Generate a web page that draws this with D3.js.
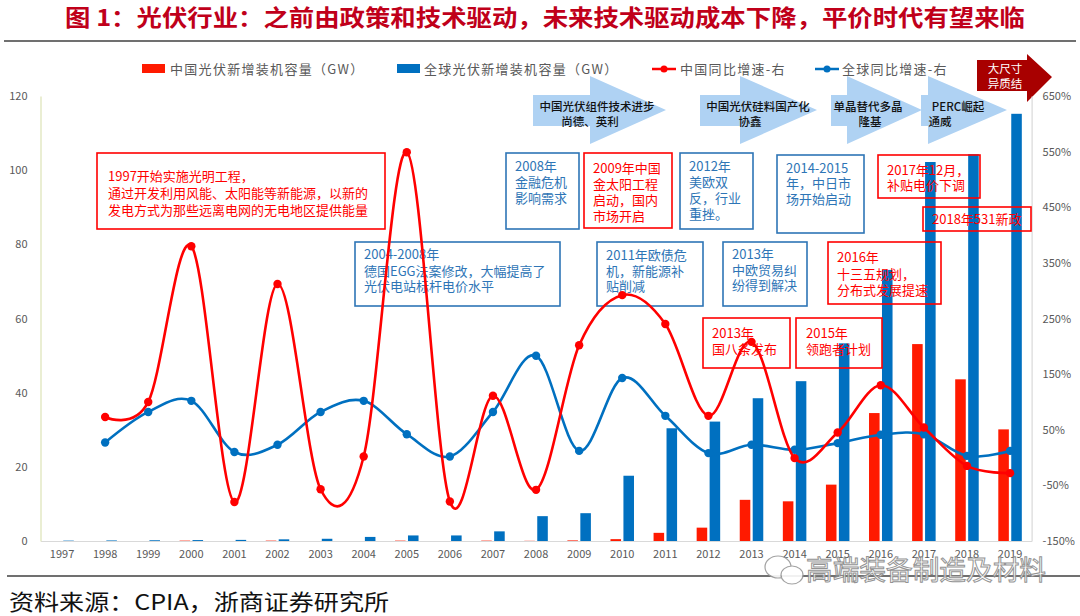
<!DOCTYPE html>
<html><head><meta charset="utf-8">
<script src="https://cdn.jsdelivr.net/npm/d3@7/dist/d3.min.js"></script>
<style>
html,body{margin:0;padding:0;background:#fff;}
svg{display:block;}
text{font-family:"Noto Sans CJK SC","Noto Sans",sans-serif;}
</style></head>
<body>
<svg id="chart" width="1080" height="616"></svg>
<script>
// ---------------- data ----------------
const years = ["1997","1998","1999","2000","2001","2002","2003","2004","2005","2006","2007","2008","2009","2010","2011","2012","2013","2014","2015","2016","2017","2018","2019"];
const chinaCap  = [0.0,0.0,0.0,0.1,0.0,0.1,0.0,0.0,0.1,0.0,0.1,0.05,0.16,0.5,2.2,3.6,11.1,10.7,15.2,34.5,53.1,43.6,30.1];
const globalCap = [0.1,0.15,0.2,0.25,0.3,0.45,0.6,1.1,1.5,1.5,2.6,6.7,7.5,17.6,30.4,32.2,38.5,43.1,53.3,73.1,102.2,104.3,115.2];
const chinaYoY  = [null,73,100,380,-80,312,-57,2,549,-79,111,-58,202,292,240,75,208,-1,45,130,54,-15,-28];
const globalYoY = [null,27,82,102,10,23,82,102,42,2,82,183,12,143,75,8,23,14,26,41,42,3,12];
const leftTicks  = [0,20,40,60,80,100,120];
const rightTicks = [-150,-50,50,150,250,350,450,550,650];
const seriesNames = ["中国光伏新增装机容量（GW）","全球光伏新增装机容量（GW）","中国同比增速-右","全球同比增速-右"];
const titleText = "图 1：光伏行业：之前由政策和技术驱动，未来技术驱动成本下降，平价时代有望来临";
const sourceText = "资料来源：CPIA，浙商证券研究所";

// annotations (layout)
const boxes = [
  {x:97,y:153,w:288,h:76,c:"red",tx:108,ty:[181,198,215],lines:["1997开始实施光明工程，","通过开发利用风能、太阳能等新能源，以新的","发电方式为那些远离电网的无电地区提供能量"]},
  {x:506,y:153,w:73,h:76,c:"blue",tx:515,ty:[171,187,203],lines:["2008年","金融危机","影响需求"]},
  {x:584,y:153,w:88,h:75,c:"red",tx:593,ty:[173,189,205,221],lines:["2009年中国","金太阳工程","启动，国内","市场开启"]},
  {x:680,y:153,w:73,h:76,c:"blue",tx:689,ty:[171,187,203,219],lines:["2012年","美欧双","反，行业","重挫。"]},
  {x:777,y:155,w:87,h:78,c:"blue",tx:786,ty:[173,188,204],lines:["2014-2015","年，中日市","场开始启动"]},
  {x:878,y:155,w:102,h:43,c:"red",tx:887,ty:[175,190],lines:["2017年12月，","补贴电价下调"]},
  {x:923,y:207,w:108,h:24,c:"red",tx:932,ty:[224],lines:["2018年531新政"]},
  {x:355,y:242,w:205,h:64,c:"blue",tx:364,ty:[259,276,291],lines:["2004-2008年","德国EGG法案修改，大幅提高了","光伏电站标杆电价水平"]},
  {x:597,y:242,w:106,h:64,c:"blue",tx:606,ty:[260,276,291],lines:["2011年欧债危","机，新能源补","贴削减"]},
  {x:723,y:242,w:84,h:64,c:"blue",tx:732,ty:[259,275,290],lines:["2013年","中欧贸易纠","纷得到解决"]},
  {x:828,y:242,w:113,h:62,c:"red",tx:837,ty:[262,279,295],lines:["2016年","十三五规划，","分布式发展提速"]},
  {x:703,y:318,w:87,h:50,c:"red",tx:712,ty:[338,354],lines:["2013年","国八条发布"]},
  {x:796,y:318,w:86,h:50,c:"red",tx:806,ty:[338,354],lines:["2015年","领跑者计划"]}
];
const arrows = [
  {x0:533,xb:590,xt:666,lines:["中国光伏组件技术进步","尚德、英利"],lx:[597,590]},
  {x0:700,xb:740,xt:817,lines:["中国光伏硅料国产化","协鑫"],lx:[758,750]},
  {x0:831,xb:847,xt:922,lines:["单晶替代多晶","隆基"],lx:[868,870]},
  {x0:921,xb:928,xt:1007,lines:["PERC崛起","通威"],lx:[958,940]}
];

// ---------------- drawing ----------------
const svg = d3.select("#chart");
const RED = "#FF1A00", BLUE = "#0070C0", BRED = "#FF0000", BBLUE = "#2E75B6";

const x = d3.scaleBand().domain(years).range([40.5, 1031.6]).padding(0);
const yL = d3.scaleLinear().domain([0,120]).range([541,96]);
const yR = d3.scaleLinear().domain([-150,650]).range([541,96]);

// title
svg.append("text").attr("x",65).attr("y",26).attr("textLength",960).attr("lengthAdjust","spacingAndGlyphs")
  .attr("font-size",23).attr("font-weight","bold").attr("fill","#C0001A").text(titleText);
svg.append("line").attr("x1",4).attr("x2",1076).attr("y1",41).attr("y2",41).attr("stroke","#404040").attr("stroke-width",1.5);

// legend
const lg = svg.append("g").attr("font-size",13).attr("fill","#595959");
lg.append("rect").attr("x",142).attr("y",64).attr("width",23).attr("height",9).attr("fill",RED);
lg.append("text").attr("x",170).attr("y",74).attr("letter-spacing",1.3).text(seriesNames[0]);
lg.append("rect").attr("x",397).attr("y",64).attr("width",23).attr("height",9).attr("fill",BLUE);
lg.append("text").attr("x",424).attr("y",74).attr("letter-spacing",1.3).text(seriesNames[1]);
lg.append("line").attr("x1",652).attr("x2",676).attr("y1",69).attr("y2",69).attr("stroke",BRED).attr("stroke-width",2.5);
lg.append("circle").attr("cx",664).attr("cy",69).attr("r",3.5).attr("fill",BRED);
lg.append("text").attr("x",680).attr("y",74).attr("letter-spacing",1.3).text(seriesNames[2]);
lg.append("line").attr("x1",815).attr("x2",839).attr("y1",69).attr("y2",69).attr("stroke",BLUE).attr("stroke-width",2.5);
lg.append("circle").attr("cx",827).attr("cy",69).attr("r",3.5).attr("fill",BLUE);
lg.append("text").attr("x",842).attr("y",74).attr("letter-spacing",1.3).text(seriesNames[3]);

// arrows
const ag = svg.append("g");
arrows.forEach(a=>{
  const pts = [[a.x0,95],[a.xb,95],[a.xb,76],[a.xt,110],[a.xb,144],[a.xb,126],[a.x0,126]];
  ag.append("polygon").attr("points",pts.map(p=>p.join(",")).join(" ")).attr("fill","#AFD2F3");
});
arrows.forEach(a=>{
  a.lines.forEach((t,i)=>{
    ag.append("text").attr("x",a.lx[i]).attr("y",i===0?111:126).attr("text-anchor","middle")
      .attr("font-size",11.5).attr("font-weight",500).attr("fill","#111").text(t);
  });
});
// dark red arrow
{
  const pts=[[977,60],[1027,60],[1027,54],[1052,77],[1027,102],[1027,91],[977,91]];
  ag.append("polygon").attr("points",pts.map(p=>p.join(",")).join(" ")).attr("fill","#A80000");
  ag.append("text").attr("x",1005).attr("y",73).attr("text-anchor","middle").attr("font-size",11.5).attr("fill","#fff").text("大尺寸");
  ag.append("text").attr("x",1005).attr("y",88).attr("text-anchor","middle").attr("font-size",11.5).attr("fill","#fff").text("异质结");
}

// axes
const gx = svg.append("g").attr("transform","translate(0,541)")
  .call(d3.axisBottom(x).tickSize(0).tickPadding(9));
gx.select(".domain").attr("stroke","#D9D9D9").attr("stroke-width",1.2);
gx.selectAll("text").attr("font-size",11).attr("fill","#595959").attr("font-family","Liberation Sans, Arial, sans-serif");

const gl = svg.append("g").attr("transform","translate(40.5,0)")
  .call(d3.axisLeft(yL).tickValues(leftTicks).tickSize(0).tickPadding(13));
gl.select(".domain").attr("stroke","#E3E8C4").attr("stroke-width",1.5);
gl.selectAll("text").attr("font-size",11).attr("fill","#595959").attr("font-family","Liberation Sans, Arial, sans-serif");

const gr = svg.append("g").attr("transform","translate(1031.6,0)")
  .call(d3.axisRight(yR).tickValues(rightTicks).tickSize(0).tickPadding(11).tickFormat(d=>d+"%"));
gr.select(".domain").attr("stroke","#D9D9D9").attr("stroke-width",1.2);
gr.selectAll("text").attr("font-size",11).attr("fill","#595959").attr("font-family","Liberation Sans, Arial, sans-serif");

// bars
const bw = x.bandwidth()*0.245, gap = 1.2;
svg.append("g").selectAll("rect").data(years).join("rect")
  .attr("x",(d)=>x(d)+x.bandwidth()/2-gap-bw).attr("width",bw)
  .attr("y",(d,i)=>yL(chinaCap[i])).attr("height",(d,i)=>yL(0)-yL(chinaCap[i])).attr("fill",RED);
svg.append("g").selectAll("rect").data(years).join("rect")
  .attr("x",(d)=>x(d)+x.bandwidth()/2+gap).attr("width",bw)
  .attr("y",(d,i)=>yL(globalCap[i])).attr("height",(d,i)=>yL(0)-yL(globalCap[i])).attr("fill",BLUE);

// boxes
const bg = svg.append("g");
boxes.forEach(b=>{
  const col = b.c==="red"?BRED:BBLUE;
  bg.append("rect").attr("x",b.x).attr("y",b.y).attr("width",b.w).attr("height",b.h)
    .attr("fill","none").attr("stroke",col).attr("stroke-width",1.6);
  b.lines.forEach((t,i)=>{
    bg.append("text").attr("x",b.tx).attr("y",b.ty[i]).attr("font-size",13).attr("fill",col).text(t);
  });
});

// lines
const cx = d=>x(d)+x.bandwidth()/2;
function drawLine(vals,col){
  const pts = years.map((d,i)=>({d,v:vals[i]})).filter(p=>p.v!==null);
  const line = d3.line().x(p=>cx(p.d)).y(p=>yR(p.v)).curve(d3.curveCardinal.tension(0));
  svg.append("path").datum(pts).attr("d",line).attr("fill","none").attr("stroke",col).attr("stroke-width",2.6);
  svg.append("g").selectAll("circle").data(pts).join("circle")
    .attr("cx",p=>cx(p.d)).attr("cy",p=>yR(p.v)).attr("r",4.2).attr("fill",col);
}
drawLine(globalYoY,BLUE);
drawLine(chinaYoY,BRED);

// bottom rule & source
svg.append("line").attr("x1",7).attr("x2",1080).attr("y1",576).attr("y2",576).attr("stroke","#404040").attr("stroke-width",1.5);
svg.append("text").attr("x",9).attr("y",610).attr("font-size",22).attr("textLength",380).attr("lengthAdjust","spacingAndGlyphs")
  .attr("fill","#111").text(sourceText);

// watermark
const wm = svg.append("g").attr("opacity",0.9);
wm.append("ellipse").attr("cx",778).attr("cy",567).attr("rx",13).attr("ry",11).attr("fill","#fff").attr("stroke","#999").attr("stroke-width",1.2);
wm.append("ellipse").attr("cx",792).attr("cy",575).attr("rx",11).attr("ry",9).attr("fill","#fff").attr("stroke","#999").attr("stroke-width",1.2);
wm.append("text").attr("x",806).attr("y",580).attr("font-size",27).attr("fill","#fff").attr("stroke","#888").attr("stroke-width",1)
  .attr("textLength",240).attr("lengthAdjust","spacingAndGlyphs").text("高端装备制造及材料");
</script>
</body></html>
